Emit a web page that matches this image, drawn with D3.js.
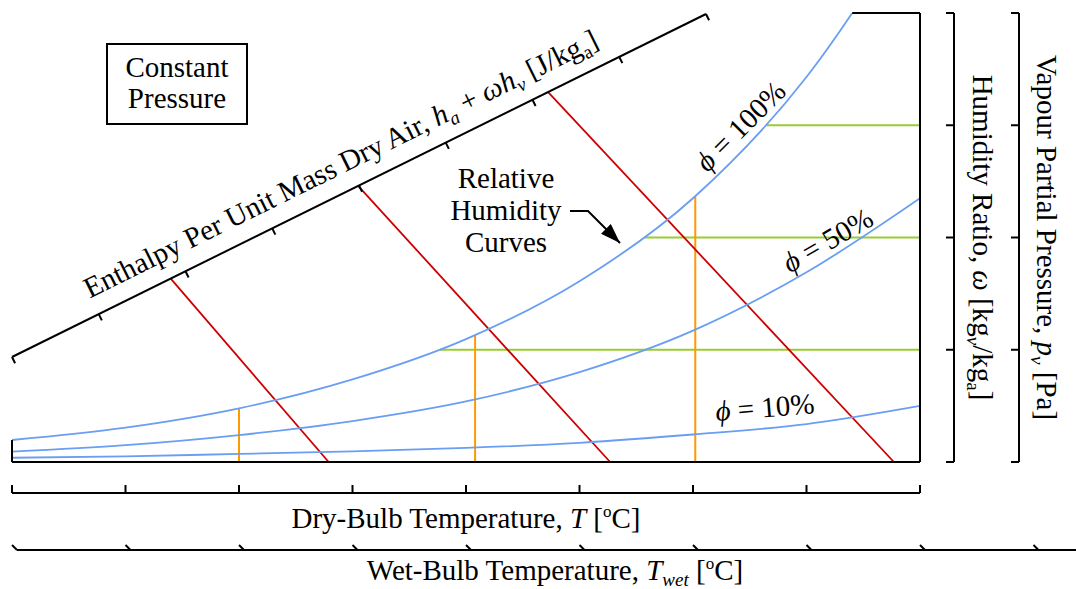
<!DOCTYPE html>
<html>
<head>
<meta charset="utf-8">
<title>Psychrometric chart</title>
<script src="https://cdn.jsdelivr.net/npm/d3@7"></script>
<style>
  body { margin: 0; background: #fff; overflow: hidden; }
  text { font-family: "Liberation Serif", "Times New Roman", serif; font-size: 29px; fill: #000; }
</style>
</head>
<body>
<script>
// ---- data (axis units: T 0..8, omega 0..4, enthalpy 0..8)
const tempSteps   = [0, 1, 2, 3, 4, 5, 6, 7, 8];
const omegaSat    = [0.196, 0.306, 0.478, 0.736, 1.095, 1.61, 2.35, 3.43, 4.95];
const omegaHalf   = [0.092, 0.15, 0.24, 0.365, 0.54, 0.80, 1.17, 1.69, 2.35];
const omegaTenth  = [0.038, 0.05, 0.072, 0.095, 0.125, 0.171, 0.245, 0.338, 0.50];

const dryTicks      = [0, 1, 2, 3, 4, 5, 6, 7, 8];
const wetTicks      = [0, 1, 2, 3, 4, 5, 6, 7, 8, 9, 10];
const omegaTicks    = [0, 1, 2, 3, 4];
const enthalpyTicks = [0, 1, 2, 3, 4, 5, 6, 7, 8];

const greenOmega  = [1, 2, 3];            // constant humidity ratio lines
const orangeTemp  = [2.0, 4.08, 6.02];    // constant dry-bulb lines
const redEnthalpy = [1.83, 3.99, 6.18];   // constant enthalpy lines: start on slanted axis
const redTemp     = [2.79, 5.27, 7.77];   //                         end on omega = 0

const phiLabels = ["100%", "50%", "10%"];
const phiLabelT = [6.48, 7.23, 6.64];
const phiLabelW = [2.93, 1.90, 0.40];
const phiLabelAngle = [-45, -30, -4.6];

// ---- layout
const W = 1076, H = 589;
const blue = "#6a9ef2", red = "#cc0000", orange = "#ff9900", green = "#99cc33";

const svg = d3.select("body").append("svg").attr("width", W).attr("height", H);

const x = d3.scaleLinear().domain([0, 8]).range([12, 920]);
const y = d3.scaleLinear().domain([0, 4]).range([462, 13]);

// slanted enthalpy axis
const hStart = [12, 357], hEnd = [706, 14];
const hScale = d3.scaleLinear().domain([0, 8]).range([0, 1]);
const hPoint = v => {
  const t = hScale(v);
  return [hStart[0] + t * (hEnd[0] - hStart[0]), hStart[1] + t * (hEnd[1] - hStart[1])];
};
const hAng = Math.atan2(hEnd[1] - hStart[1], hEnd[0] - hStart[0]);
const hDeg = hAng * 180 / Math.PI;
const nrm = [-Math.sin(hAng), Math.cos(hAng)]; // points down-right

svg.append("clipPath").attr("id", "plot")
  .append("rect")
  .attr("x", x(0)).attr("y", y(4))
  .attr("width", x(8) - x(0)).attr("height", y(0) - y(4));

const gGreen = svg.append("g");
const gOrange = svg.append("g");
const gRed = svg.append("g");
const gBlue = svg.append("g").attr("clip-path", "url(#plot)");
const gAxes = svg.append("g");

const line = d3.line()
  .x((d, i) => x(tempSteps[i]))
  .y(d => y(d))
  .curve(d3.curveMonotoneX);

const curves = [omegaSat, omegaHalf, omegaTenth];
const paths = gBlue.selectAll("path").data(curves).join("path")
  .attr("d", line)
  .attr("fill", "none")
  .attr("stroke", blue)
  .attr("stroke-width", 1.8);

const satNode = paths.nodes()[0];
const satLen = satNode.getTotalLength();
// position on the drawn saturation curve where a coordinate is reached
function onSat(key, target) {
  let lo = 0, hi = satLen;
  for (let k = 0; k < 40; k++) {
    const mid = (lo + hi) / 2;
    const p = satNode.getPointAtLength(mid);
    const reached = key === "x" ? p.x >= target : p.y <= target;
    if (reached) hi = mid; else lo = mid;
  }
  return satNode.getPointAtLength(hi);
}

// constant humidity ratio lines
gGreen.selectAll("line").data(greenOmega).join("line")
  .attr("x1", d => onSat("y", y(d)).x)
  .attr("x2", x(8))
  .attr("y1", d => y(d)).attr("y2", d => y(d))
  .attr("stroke", green).attr("stroke-width", 2);

// constant dry-bulb lines
gOrange.selectAll("line").data(orangeTemp).join("line")
  .attr("x1", d => x(d)).attr("x2", d => x(d))
  .attr("y1", d => onSat("x", x(d)).y)
  .attr("y2", y(0))
  .attr("stroke", orange).attr("stroke-width", 2);

// constant enthalpy lines
gRed.selectAll("line").data(redEnthalpy).join("line")
  .attr("x1", d => hPoint(d)[0]).attr("y1", d => hPoint(d)[1])
  .attr("x2", (d, i) => x(redTemp[i])).attr("y2", y(0))
  .attr("stroke", red).attr("stroke-width", 1.8);

// ---- plot frame
const ax = { stroke: "#000", "stroke-width": 2, fill: "none" };
function seg(g, x1, y1, x2, y2) {
  const l = g.append("line").attr("x1", x1).attr("y1", y1).attr("x2", x2).attr("y2", y2);
  Object.entries(ax).forEach(([k, v]) => l.attr(k, v));
  return l;
}
seg(gAxes, x(0), y(0), x(8), y(0));
seg(gAxes, x(8), y(0), x(8), y(4));
seg(gAxes, onSat("y", y(4)).x, y(4), x(8), y(4));
seg(gAxes, x(0), y(0), x(0), y(omegaSat[0]));

// enthalpy axis
seg(gAxes, hStart[0], hStart[1], hEnd[0], hEnd[1]);
enthalpyTicks.forEach(v => {
  const p = hPoint(v);
  seg(gAxes, p[0], p[1], p[0] + 7 * nrm[0], p[1] + 7 * nrm[1]);
});

// dry-bulb axis
const dryY = 493;
seg(gAxes, x(0), dryY, x(8), dryY);
dryTicks.forEach(t => seg(gAxes, x(t), dryY, x(t), dryY - 8));

// wet-bulb axis (slanted ticks)
const wetY = 550;
seg(gAxes, x(0) + 5, wetY, x(10) + 5, wetY);
wetTicks.forEach(t => seg(gAxes, x(t), wetY - 5, x(t) + 5, wetY));

// right-hand vertical axes
[954, 1019].forEach(ox => {
  seg(gAxes, ox, y(0), ox, y(4));
  omegaTicks.forEach(w => seg(gAxes, ox - 8, y(w), ox, y(w)));
});

// ---- text helpers
function rich(sel, parts) {
  let shift = 0;
  parts.forEach(([str, opt]) => {
    opt = opt || {};
    const ts = sel.append("tspan").text(str);
    let want = 0;
    if (opt.sub) { want = 6; ts.style("font-size", "19px"); }
    if (opt.sup) { want = -11; ts.style("font-size", "17px"); }
    if (opt.it) ts.style("font-style", "italic");
    if (want !== shift) { ts.attr("dy", want - shift); shift = want; }
  });
  return sel;
}

// dry-bulb label
rich(svg.append("text").attr("x", 466).attr("y", 528).attr("text-anchor", "middle"),
  [["Dry-Bulb Temperature, "], ["T", { it: true }], [" ["], ["o", { sup: true }], ["C]"]]);

// wet-bulb label
rich(svg.append("text").attr("x", 555).attr("y", 580).attr("text-anchor", "middle"),
  [["Wet-Bulb Temperature, "], ["T", { it: true }], ["wet", { it: true, sub: true }], [" ["], ["o", { sup: true }], ["C]"]]);

// enthalpy label along the slanted axis
const hl = hPoint(3.93);
rich(svg.append("text")
    .attr("text-anchor", "middle")
    .attr("transform", `translate(${hl[0] - 18 * nrm[0]},${hl[1] - 18 * nrm[1]}) rotate(${hDeg})`),
  [["Enthalpy Per Unit Mass Dry Air, "], ["h", { it: true }], ["a", { it: true, sub: true }],
   [" + "], ["ωh", { it: true }], ["v", { it: true, sub: true }], [" [J/kg"], ["a", { sub: true }], ["]"]]);

// right labels
rich(svg.append("text").attr("text-anchor", "middle")
    .attr("transform", `translate(973,${(y(0) + y(4)) / 2}) rotate(90)`),
  [["Humidity Ratio, "], ["ω", { it: true }], [" [kg"], ["v", { it: true, sub: true }], ["/kg"], ["a", { sub: true }], ["]"]]);

rich(svg.append("text").attr("text-anchor", "middle")
    .attr("transform", `translate(1037,${(y(0) + y(4)) / 2}) rotate(90)`),
  [["Vapour Partial Pressure, "], ["p", { it: true }], ["v", { it: true, sub: true }], [" [Pa]"]]);

// relative humidity labels
phiLabels.forEach((lab, i) => {
  rich(svg.append("text").attr("text-anchor", "middle")
      .attr("transform", `translate(${x(phiLabelT[i])},${y(phiLabelW[i])}) rotate(${phiLabelAngle[i]})`),
    [["ϕ", { it: true }], [" = " + lab]]);
});

// constant pressure box
svg.append("rect")
  .attr("x", 107).attr("y", 44).attr("width", 140).attr("height", 80)
  .attr("fill", "none").attr("stroke", "#000").attr("stroke-width", 2);
["Constant", "Pressure"].forEach((s, i) => {
  svg.append("text").attr("x", 177).attr("y", 77 + i * 31)
    .attr("text-anchor", "middle").text(s);
});

// relative humidity curves callout
["Relative", "Humidity", "Curves"].forEach((s, i) => {
  svg.append("text").attr("x", 506).attr("y", 188 + i * 32)
    .attr("text-anchor", "middle").text(s);
});
svg.append("defs").append("marker")
  .attr("id", "arrow")
  .attr("viewBox", "0 0 20 14")
  .attr("refX", 20).attr("refY", 7)
  .attr("markerWidth", 20).attr("markerHeight", 14)
  .attr("markerUnits", "userSpaceOnUse")
  .attr("orient", "auto")
  .append("path").attr("d", "M0,0 L20,7 L0,14 Z").attr("fill", "#000");
svg.append("path")
  .attr("d", "M570,211 L588,211 L620,243")
  .attr("fill", "none").attr("stroke", "#000").attr("stroke-width", 2)
  .attr("marker-end", "url(#arrow)");
</script>
</body>
</html>
